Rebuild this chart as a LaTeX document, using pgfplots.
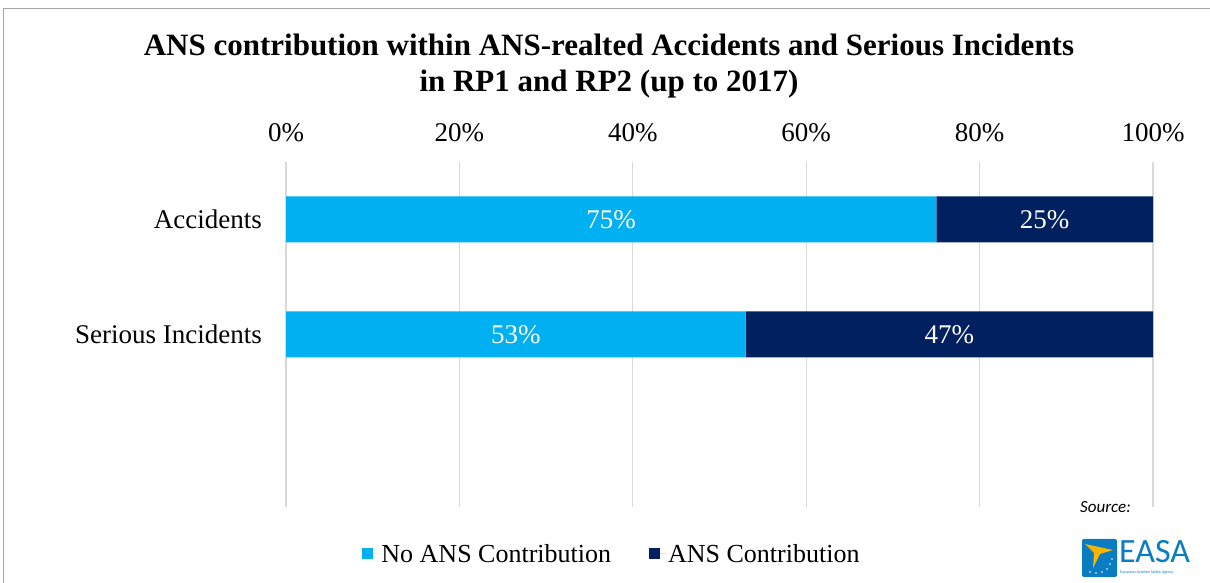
\documentclass[border=0pt]{standalone}
\usepackage{pgfplots}
\pgfplotsset{compat=1.18}
\usepackage{fontspec}
\setmainfont{Liberation Serif}
\newfontfamily\carlito{Carlito}
\definecolor{lightb}{HTML}{00B0F0}
\definecolor{darkb}{HTML}{002060}
\definecolor{gridc}{HTML}{D9D9D9}
\definecolor{framec}{HTML}{A6A6A6}
\definecolor{easablue}{HTML}{0A7CC1}
\definecolor{easayellow}{HTML}{F7B500}
\begin{document}
\begin{tikzpicture}[x=1pt,y=1pt]
\useasboundingbox (0,0) rectangle (1210,583);
\draw[framec, line width=1pt] (3,0) -- (3,574) -- (1210,574);
\node[align=center, font=\bfseries\fontsize{31}{36}\selectfont] at (609,517)
  {ANS contribution within ANS-realted Accidents and Serious Incidents\\in RP1 and RP2 (up to 2017)};
\begin{axis}[at={(286pt,76pt)}, anchor=south west, scale only axis,
  width=867pt, height=345pt,
  xbar stacked, bar width=46pt,
  xmin=0, xmax=100, ymin=-1.5, ymax=1.5,
  xtick={0,20,40,60,80,100},
  xticklabels={0\%,20\%,40\%,60\%,80\%,100\%},
  xticklabel pos=upper,
  ytick={0,1}, yticklabels={Serious Incidents,Accidents},
  axis line style={draw=none},
  major tick length=0pt,
  xmajorgrids, major grid style={gridc, line width=1.2pt},
  x tick label style={font=\fontsize{27}{27}\selectfont, anchor=base, inner sep=0pt, yshift=20pt},
  y tick label style={font=\fontsize{27}{27}\selectfont, anchor=east, inner sep=0pt, xshift=-24pt},
  legend columns=2,
  legend style={at={(0.376,-0.136)}, anchor=center, draw=none, fill=none,
    font=\fontsize{26}{26}\selectfont,
    /tikz/every even column/.append style={column sep=36pt}},
  ]
\addplot[fill=lightb, draw=none,
  legend image code/.code={\fill[lightb] (0pt,-5.5pt) rectangle (11pt,5.5pt); \path (0pt,0pt) -- (17pt,0pt);}]
  coordinates {(53,0) (75,1)};
\addlegendentry{No ANS Contribution}
\addplot[fill=darkb, draw=none,
  legend image code/.code={\fill[darkb] (0pt,-5.5pt) rectangle (11pt,5.5pt); \path (0pt,0pt) -- (17pt,0pt);}]
  coordinates {(47,0) (25,1)};
\addlegendentry{ANS Contribution}
\end{axis}
\begin{axis}[at={(286pt,76pt)}, anchor=south west, scale only axis,
  width=867pt, height=345pt,
  xmin=0, xmax=100, ymin=-1.5, ymax=1.5, hide axis]
\addplot[draw=none, mark=none, nodes near coords, point meta=explicit symbolic,
  every node near coord/.append style={anchor=center, text=white, font=\fontsize{27}{27}\selectfont}]
  coordinates {(37.5,1) [75\%] (87.5,1) [25\%] (26.5,0) [53\%] (76.5,0) [47\%]};
\end{axis}
\node[anchor=east, font=\carlito\itshape\fontsize{17}{17}\selectfont, inner sep=0pt] at (1131,76) {Source:};
\fill[easablue, rounded corners=2pt] (1082,6) rectangle (1117,44);
\fill[easayellow] (1085,39) -- (1113,33) -- (1100,29) -- (1093,15) -- (1094,30) -- cycle;
\foreach \p in {(1090,11),(1096,10),(1102,11),(1107,14),(1110,19),(1112,24)}
  \fill[white] \p circle (0.9pt);
\node[anchor=west, text=easablue, font=\carlito\fontsize{34}{34}\selectfont, inner sep=0pt] at (1119,31) {EASA};
\node[anchor=west, text=easablue, font=\carlito\fontsize{4}{4}\selectfont, inner sep=0pt] at (1120,11) {European Aviation Safety Agency};
\end{tikzpicture}
\end{document}
